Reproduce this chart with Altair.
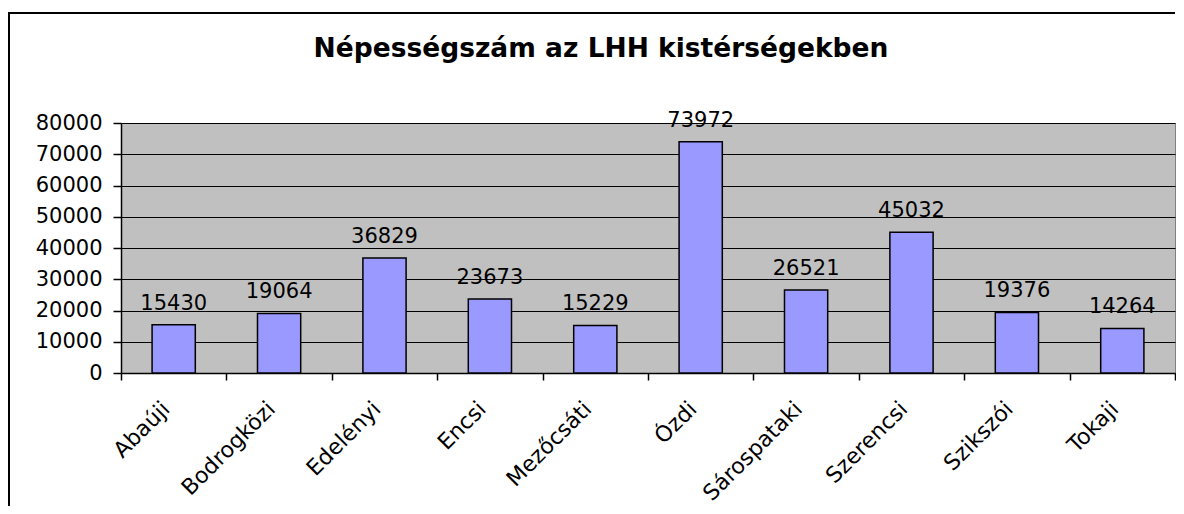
import altair as alt
import pandas as pd

categories = ["Abaúji", "Bodrogközi", "Edelényi", "Encsi", "Mezőcsáti",
              "Ózdi", "Sárospataki", "Szerencsi", "Szikszói", "Tokaji"]
population = [15430, 19064, 36829, 23673, 15229, 73972, 26521, 45032, 19376, 14264]
y_ticks = [0, 10000, 20000, 30000, 40000, 50000, 60000, 70000, 80000]
title_text = ["Népességszám az LHH kistérségekben"]

df = pd.DataFrame({"kisterseg": categories, "nepesseg": population})
df_title = pd.DataFrame({"t": title_text})

FONT = "DejaVu Sans"

x_enc = alt.X(
    "kisterseg:N", sort=categories, title=None,
    scale=alt.Scale(paddingInner=0, paddingOuter=0),
    axis=alt.Axis(labelAngle=-45, labelAlign="right", labelBaseline="middle",
                  labelPadding=25, labelOffset=-8, tickBand="extent",
                  tickSize=7, tickWidth=1.5, tickColor="black",
                  domainColor="black", domainWidth=1.5,
                  labelFont=FONT, labelFontSize=22, labelColor="black",
                  labelOverlap=False, grid=False),
)
y_enc = alt.Y(
    "nepesseg:Q", title=None,
    scale=alt.Scale(domain=[0, 80000], nice=False),
    axis=alt.Axis(values=y_ticks, format="d", tickSize=8, tickWidth=1.5,
                  tickColor="black", domainColor="black", domainWidth=1.5,
                  gridColor="black", gridWidth=1, gridOpacity=1,
                  labelPadding=11, labelFont=FONT, labelFontSize=21,
                  labelColor="black", labelOverlap=False),
)

base = alt.Chart(df)

bars = base.mark_bar(color="#9999FF", stroke="black", strokeWidth=1.5,
                     width=alt.RelativeBandSize(0.41)).encode(
    x=x_enc, y=y_enc
)

labels = base.mark_text(baseline="alphabetic", dy=-15, font=FONT,
                        fontSize=21, color="black").encode(
    x=x_enc, y=y_enc,
    text=alt.Text("nepesseg:Q", format="d"),
)

tbase = alt.Chart(df_title)

title = tbase.mark_text(font=FONT, fontSize=26.5, fontWeight="bold",
                        color="black", align="center",
                        baseline="alphabetic").encode(
    x=alt.value(480), y=alt.value(-66), text="t:N"
)

frame_left = tbase.mark_rule(color="black", strokeWidth=2).encode(
    x=alt.value(-112), y=alt.value(-110), y2=alt.value(420)
)
frame_top = tbase.mark_rule(color="black", strokeWidth=2).encode(
    x=alt.value(-113), x2=alt.value(1054), y=alt.value(-110)
)

chart = alt.layer(bars, labels, title, frame_left, frame_top).properties(
    width=1054,
    height=250,
    autosize=alt.AutoSizeParams(type="none"),
    padding={"left": 113, "top": 115, "right": 1, "bottom": 133},
).configure(
    background="white"
).configure_view(
    fill="#C0C0C0", stroke="#808080", strokeWidth=1
)

chart.save("out.html", embed_options={"renderer": "svg", "actions": False})
